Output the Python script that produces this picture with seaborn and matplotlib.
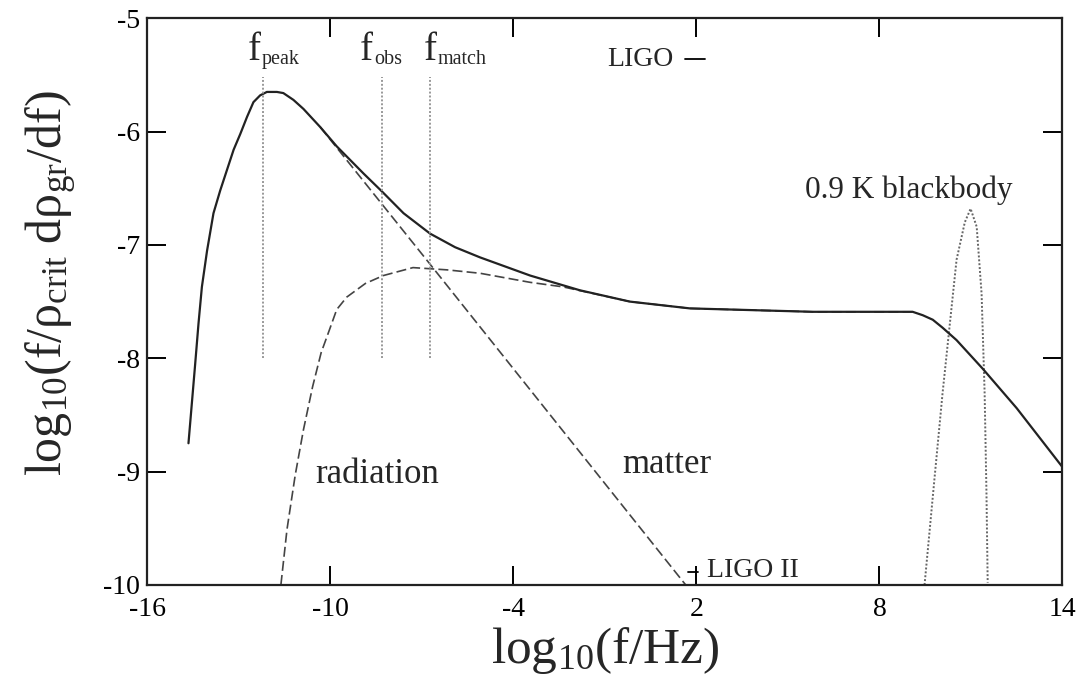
import matplotlib
matplotlib.use("Agg")
import matplotlib.pyplot as plt
import seaborn as sns
import numpy as np
import pandas as pd

# ---- data ----
total_x = [-14.65, -14.54, -14.43, -14.32, -14.21, -14.04, -13.83, -13.61, -13.39, -13.17,
           -12.95, -12.73, -12.52, -12.30, -12.08, -11.75, -11.54, -11.21, -10.88, -10.33,
           -9.79, -9.46, -8.91, -8.30, -7.60, -6.73, -5.91, -5.09, -4.27, -3.45, -1.82,
           -0.18, 1.79, 5.81, 9.09, 9.42, 9.75, 10.07, 10.53, 11.38, 12.50, 14.0]
total_y = [-8.75, -8.40, -8.05, -7.69, -7.37, -7.05, -6.72, -6.52, -6.34, -6.16,
           -6.02, -5.87, -5.74, -5.68, -5.65, -5.65, -5.66, -5.72, -5.80, -5.96,
           -6.13, -6.22, -6.37, -6.53, -6.72, -6.90, -7.02, -7.11, -7.19, -7.27, -7.40,
           -7.50, -7.56, -7.59, -7.59, -7.62, -7.66, -7.73, -7.84, -8.09, -8.44, -8.96]

matter_x = [-10.33, -6.73, 1.65]
matter_y = [-5.96, -7.17, -10.0]

radiation_x = [-11.62, -11.42, -11.15, -10.88, -10.58, -10.30, -10.03, -9.79, -9.46, -8.85,
               -8.26, -7.29, -6.17, -5.09, -3.45, -2.37, -0.18, 1.79, 5.81, 9.09]
radiation_y = [-10.0, -9.51, -9.03, -8.63, -8.25, -7.95, -7.75, -7.57, -7.46, -7.34,
               -7.27, -7.20, -7.22, -7.25, -7.33, -7.37, -7.50, -7.56, -7.59, -7.59]

bb_x = [9.48, 9.81, 10.07, 10.30, 10.53, 10.80, 10.99, 11.19, 11.35, 11.45, 11.51, 11.55]
bb_y = [-10.0, -9.05, -8.31, -7.72, -7.13, -6.80, -6.68, -6.84, -7.43, -8.31, -9.19, -9.98]

freq_marks = [-12.2, -8.30, -6.73]
freq_names = ["peak", "obs", "match"]
freq_label_x = [-12.72, -9.02, -6.93]
freq_sub_x = [-12.26, -8.55, -6.49]
freq_line_top, freq_line_bottom = -5.52, -8.0

ligo_x = [1.62, 2.28]
ligo_y = [-5.36, -5.36]
ligo2_x = [1.72, 2.05]
ligo2_y = [-9.89, -9.89]

x_ticks = [-16, -10, -4, 2, 8, 14]
y_ticks = [-10, -9, -8, -7, -6, -5]

# ---- style ----
sns.set_style("ticks")
plt.rcParams["font.family"] = ["Liberation Serif", "DejaVu Serif"]
plt.rcParams["mathtext.fontset"] = "custom"
plt.rcParams["mathtext.rm"] = "Liberation Serif"
plt.rcParams["mathtext.it"] = "Liberation Serif:italic"

fig = plt.figure(figsize=(10.83, 6.77), dpi=100)
ax = fig.add_axes([0.136, 0.136, 0.845, 0.837])

df_total = pd.DataFrame({"x": total_x, "y": total_y})
df_matter = pd.DataFrame({"x": matter_x, "y": matter_y})
df_rad = pd.DataFrame({"x": radiation_x, "y": radiation_y})
df_bb = pd.DataFrame({"x": bb_x, "y": bb_y})

dash = (0, (6, 2.5))
sns.lineplot(data=df_matter, x="x", y="y", ax=ax, color="#444444", lw=1.2,
             linestyle=dash, sort=False, estimator=None)
sns.lineplot(data=df_rad, x="x", y="y", ax=ax, color="#444444", lw=1.2,
             linestyle=dash, sort=False, estimator=None)
sns.lineplot(data=df_bb, x="x", y="y", ax=ax, color="#666666", lw=1.4,
             linestyle=(0, (1, 1)), sort=False, estimator=None)
sns.lineplot(data=df_total, x="x", y="y", ax=ax, color="#222222", lw=1.6,
             sort=False, estimator=None)

ax.vlines(freq_marks, freq_line_bottom, freq_line_top, colors="#999999",
          linestyles=(0, (1, 1)), lw=1.4)

ax.plot(ligo_x, ligo_y, color="black", lw=1.3)
ax.plot(ligo2_x, ligo2_y, color="black", lw=1.3)

for lx, sx, name in zip(freq_label_x, freq_sub_x, freq_names):
    ax.text(lx, -5.37, "f", fontsize=28, ha="left", va="baseline")
    ax.text(sx, -5.40, name, fontsize=14.5, ha="left", va="baseline")

ax.text(1.25, -5.36, "LIGO", fontsize=20, ha="right", va="center")
ax.text(2.34, -9.87, "LIGO II", fontsize=20, ha="left", va="center")
ax.text(-10.50, -9.10, "radiation", fontsize=25, ha="left", va="baseline")
ax.text(-0.44, -9.01, "matter", fontsize=25, ha="left", va="baseline")
ax.text(5.55, -6.59, "0.9 K blackbody", fontsize=22.5, ha="left", va="baseline")

ax.set_xlim(-16, 14)
ax.set_ylim(-10, -5)
ax.set_xticks(x_ticks)
ax.set_yticks(y_ticks)
ax.set_xticklabels([str(t) for t in x_ticks])
ax.set_yticklabels([str(t) for t in y_ticks])
ax.tick_params(axis="both", direction="in", length=14, width=1.4, labelsize=20,
               top=True, right=True, colors="black")
ax.tick_params(axis="x", pad=9)
ax.tick_params(axis="y", pad=5)
for s in ax.spines.values():
    s.set_linewidth(1.6)
    s.set_color("#222222")

ax.set_xlabel(r"$\mathregular{log_{10}(f/Hz)}$", fontsize=37, labelpad=2)
ax.set_ylabel(r"$\mathregular{log_{10}(f/ρ_{crit}\ dρ_{gr}/df)}$", fontsize=36)
ax.yaxis.set_label_coords(-0.075, 0.533)

fig.savefig("out.png", dpi=100)
